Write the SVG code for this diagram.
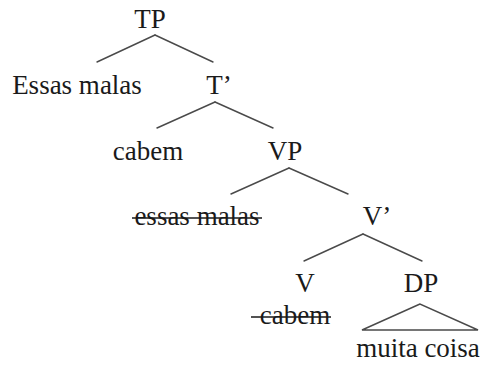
<svg xmlns="http://www.w3.org/2000/svg" width="482" height="365" viewBox="0 0 482 365">
  <style>
    .lbl { font-size: 27px; fill: #1a1a1a; text-anchor: middle; }
    .edge { stroke: #4a4a4a; stroke-width: 1.4; fill: none; stroke-linecap: round; }
    .strike { stroke: #1a1a1a; stroke-width: 1.4; }
  </style>
  <rect width="482" height="365" fill="#ffffff"/>

  <g id="connectors">
    <line class="edge" x1="155" y1="35" x2="97" y2="62"/>
    <line class="edge" x1="155" y1="35" x2="213" y2="62"/>
    <line class="edge" x1="215" y1="102" x2="157" y2="128"/>
    <line class="edge" x1="215" y1="102" x2="273" y2="128"/>
    <line class="edge" x1="289" y1="168" x2="231" y2="194"/>
    <line class="edge" x1="289" y1="168" x2="348" y2="194"/>
    <line class="edge" x1="363" y1="234" x2="304" y2="261"/>
    <line class="edge" x1="363" y1="234" x2="422" y2="261"/>
    <polygon class="edge" points="420,304 362,330 478,330"/>
  </g>

  <g font-family="Liberation Serif, DejaVu Serif, serif">
    <g id="TP"><text class="lbl" x="150" y="28">TP</text></g>
    <g id="Essas-malas"><text class="lbl" x="77" y="94">Essas malas</text></g>
    <g id="T-bar"><text class="lbl" x="219" y="94">T’</text></g>
    <g id="cabem"><text class="lbl" x="148" y="160">cabem</text></g>
    <g id="VP"><text class="lbl" x="285" y="160">VP</text></g>
    <g id="essas-malas-trace">
      <text class="lbl" x="197" y="225">essas malas</text>
      <line class="strike" x1="132" y1="218" x2="262" y2="218"/>
    </g>
    <g id="V-bar"><text class="lbl" x="377" y="225">V’</text></g>
    <g id="V"><text class="lbl" x="305" y="292">V</text></g>
    <g id="DP"><text class="lbl" x="421" y="292">DP</text></g>
    <g id="cabem-trace">
      <text class="lbl" x="295" y="324">cabem</text>
      <line class="strike" x1="251" y1="317" x2="331" y2="317"/>
    </g>
    <g id="muita-coisa"><text class="lbl" x="418" y="357">muita coisa</text></g>
  </g>
</svg>
